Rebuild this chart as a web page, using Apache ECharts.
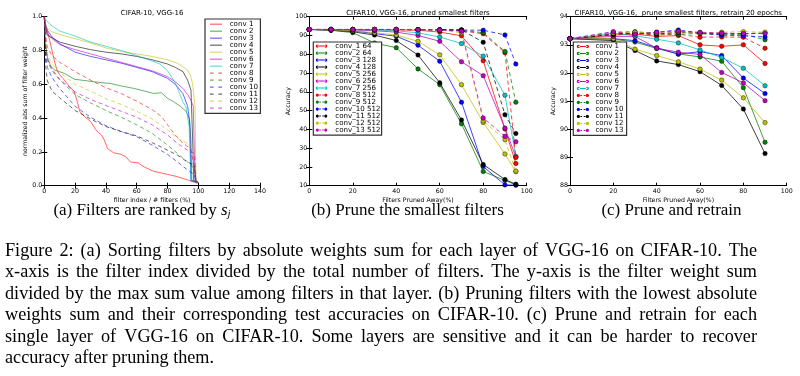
<!DOCTYPE html>
<html>
<head>
<meta charset="utf-8">
<title>VGG-16 filter pruning on CIFAR-10</title>
<script src="https://cdn.jsdelivr.net/npm/echarts@6.0.0/dist/echarts.min.js"></script>
<style>
  html, body { margin: 0; padding: 0; background: #fff; }
  #chart { width: 800px; height: 376px; }
</style>
</head>
<body>
<div id="chart"></div>
<script>
// ---- (a) sorted filter weight sums: [filter index / # filters (%), normalized sum]
const sortConv1 = [[0,1],[1,0.94],[2.5,0.9],[3.5,0.86],[5,0.8],[6.5,0.74],[8,0.69],[9.7,0.66],[13,0.625],[16,0.59],[19.5,0.556],[21.6,0.49],[23,0.44],[26,0.41],[30,0.38],[33.5,0.33],[37,0.3],[39,0.27],[41,0.22],[45,0.195],[50,0.185],[53,0.17],[56,0.14],[61,0.135],[65,0.11],[71,0.085],[76,0.075],[80,0.067],[86.5,0.053],[93,0.034],[96,0.024],[99.5,0.014]];
const sortConv2 = [[0,1],[0.5,0.9],[1,0.82],[2,0.76],[4,0.71],[6.5,0.685],[13,0.665],[19.5,0.63],[28,0.62],[37,0.61],[43,0.605],[50,0.59],[58,0.576],[65,0.56],[71,0.546],[76,0.55],[80,0.517],[84,0.497],[88.7,0.467],[92,0.44],[94,0.4],[95.2,0.27],[95.8,0.03],[100,0.02]];
const sortConv3 = [[0,1],[1,0.95],[2,0.92],[5,0.88],[10,0.84],[20,0.79],[30,0.765],[40,0.745],[50,0.725],[60,0.7],[70,0.675],[80,0.635],[85,0.6],[90,0.545],[93,0.47],[94.5,0.37],[95.2,0.03],[100,0.02]];
const sortConv4 = [[0,1],[1,0.92],[2,0.89],[5,0.875],[10,0.85],[20,0.825],[30,0.805],[40,0.79],[50,0.78],[60,0.765],[70,0.745],[80,0.72],[85,0.7],[90,0.675],[93,0.625],[95.2,0.566],[96.3,0.27],[97,0.03],[100,0.02]];
const sortConv5 = [[0,1],[1,0.95],[2,0.93],[5,0.91],[10,0.895],[20,0.87],[30,0.845],[40,0.815],[50,0.795],[60,0.78],[70,0.765],[80,0.745],[86.5,0.724],[93,0.685],[95,0.65],[96.3,0.6],[97.8,0.47],[98.4,0.03],[100,0.02]];
const sortConv6 = [[0,1],[1,0.93],[2,0.9],[5,0.87],[10,0.835],[20,0.805],[30,0.78],[40,0.755],[50,0.73],[60,0.705],[70,0.68],[80,0.645],[85,0.615],[90,0.575],[93,0.54],[95.2,0.505],[96.7,0.47],[97.8,0.03],[100,0.02]];
const sortConv7 = [[0,1],[1,0.98],[2,0.97],[5,0.945],[10,0.915],[20,0.885],[30,0.85],[40,0.825],[50,0.8],[60,0.77],[70,0.738],[75,0.72],[80,0.68],[85,0.61],[88,0.54],[90,0.495],[92,0.465],[94,0.35],[95.2,0.03],[100,0.02]];
const sortConv8 = [[0,1],[1,0.88],[2,0.82],[5,0.77],[10,0.73],[20,0.675],[30,0.625],[40,0.58],[50,0.545],[60,0.5],[70,0.45],[76,0.41],[80,0.36],[85,0.3],[90,0.25],[95,0.22],[97,0.12],[98.5,0.02]];
const sortConv9 = [[0,1],[1,0.8],[2,0.74],[5,0.68],[10,0.625],[20,0.54],[30,0.49],[40,0.445],[50,0.405],[60,0.36],[70,0.31],[80,0.24],[86.5,0.19],[93,0.14],[97.5,0.1],[98.5,0.02]];
const sortConv10 = [[0,1],[1,0.76],[2,0.7],[5,0.64],[10,0.575],[20,0.47],[30,0.405],[40,0.355],[50,0.32],[60,0.29],[70,0.24],[80,0.185],[86.5,0.14],[93,0.093],[97.5,0.065],[98.5,0.02]];
const sortConv11 = [[0,1],[1,0.7],[2,0.62],[5,0.56],[10,0.52],[20,0.445],[30,0.395],[40,0.35],[50,0.32],[60,0.295],[70,0.255],[80,0.21],[86.5,0.18],[93,0.14],[97.5,0.12],[98.5,0.02]];
const sortConv12 = [[0,1],[1,0.84],[2,0.78],[5,0.72],[10,0.67],[20,0.6],[30,0.56],[40,0.515],[50,0.48],[60,0.44],[70,0.395],[80,0.33],[86.5,0.28],[93,0.25],[97.5,0.23],[98.5,0.02]];
const sortConv13 = [[0,1],[1,0.82],[2,0.75],[5,0.69],[10,0.63],[20,0.555],[30,0.51],[40,0.475],[50,0.44],[60,0.405],[70,0.36],[80,0.3],[86.5,0.25],[93,0.21],[97.5,0.19],[98.5,0.02]];

// ---- (b) accuracy after pruning the smallest filters
const prunedPct = [0, 10, 20, 30, 40, 50, 60, 70, 80, 90, 95];
const accConv1 = [93.2, 93.2, 93.1, 93.0, 93.0, 92.8, 91.8, 89.8, 76.5, 40.2, 21.8];
const accConv2 = [93.2, 92.8, 91.5, 86.0, 83.5, 72.2, 63.8, 43.0, 17.6, 12.8, 10.5];
const accConv3 = [93.2, 93.0, 92.5, 91.0, 89.6, 84.8, 76.3, 54.5, 20.2, 10.4, 10.3];
const accConv4 = [93.2, 92.8, 92.0, 90.2, 87.3, 79.6, 64.8, 45.0, 21.3, 13.3, 10.8];
const accConv5 = [93.2, 93.0, 92.5, 91.5, 90.2, 86.9, 79.7, 63.8, 43.7, 26.9, 17.5];
const accConv6 = [93.2, 93.2, 93.0, 92.5, 91.8, 90.0, 86.9, 76.0, 68.6, 40.7, 25.4];
const accConv7 = [93.2, 93.2, 93.1, 93.0, 92.5, 91.4, 89.2, 85.7, 79.0, 58.2, 25.6];
const accConv8 = [93.2, 93.2, 93.2, 93.2, 93.1, 93.0, 92.8, 92.5, 90.9, 80.8, 25.0];
const accConv9 = [93.2, 93.2, 93.2, 93.2, 93.2, 93.1, 93.0, 92.8, 91.5, 81.5, 54.5];
const accConv10 = [93.2, 93.2, 93.2, 93.2, 93.2, 93.1, 93.0, 92.9, 92.8, 90.3, 74.8];
const accConv11 = [93.2, 93.2, 93.2, 93.2, 93.2, 93.2, 93.1, 93.0, 86.4, 47.8, 37.8];
const accConv12 = [93.2, 93.2, 93.2, 93.2, 93.2, 93.1, 92.9, 91.5, 44.5, 34.5, 17.8];
const accConv13 = [93.2, 93.2, 93.2, 93.2, 93.2, 93.1, 92.9, 92.3, 46.0, 36.3, 33.4];

// ---- (c) accuracy after pruning + retraining 20 epochs
const retrainPct = [0, 20, 30, 40, 50, 60, 70, 80, 90];
const retConv1 = [93.22, 93.35, 93.38, 93.3, 93.33, 93.0, 92.95, 93.0, 92.34];
const retConv2 = [93.22, 93.2, 93.1, 92.87, 92.68, 92.57, 92.42, 91.48, 89.54];
const retConv3 = [93.22, 93.22, 93.15, 92.9, 92.67, 92.76, 92.62, 91.82, 91.27];
const retConv4 = [93.22, 93.15, 92.8, 92.43, 92.3, 92.05, 91.56, 90.72, 89.14];
const retConv5 = [93.22, 93.22, 92.85, 92.62, 92.4, 92.14, 91.75, 91.12, 90.24];
const retConv6 = [93.22, 93.3, 93.3, 92.88, 92.74, 92.66, 92.02, 91.65, 91.02];
const retConv7 = [93.22, 93.42, 93.32, 93.2, 93.07, 92.82, 92.55, 92.17, 91.55];
const retConv8 = [93.22, 93.4, 93.4, 93.35, 93.38, 93.27, 93.28, 93.27, 92.88];
const retConv9 = [93.22, 93.45, 93.47, 93.4, 93.38, 93.4, 93.35, 93.38, 93.18];
const retConv10 = [93.22, 93.4, 93.4, 93.45, 93.53, 93.42, 93.35, 93.32, 93.28];
const retConv11 = [93.22, 93.37, 93.42, 93.38, 93.45, 93.42, 93.4, 93.4, 93.42];
const retConv12 = [93.22, 93.42, 93.45, 93.42, 93.47, 93.42, 93.45, 93.47, 93.45];
const retConv13 = [93.22, 93.47, 93.38, 93.45, 93.48, 93.45, 93.42, 93.4, 93.4];

const layerNames = ['conv 1', 'conv 2', 'conv 3', 'conv 4', 'conv 5', 'conv 6', 'conv 7',
  'conv 8', 'conv 9', 'conv 10', 'conv 11', 'conv 12', 'conv 13'];
const prunedNames = ['conv_1 64', 'conv_2 64', 'conv_3 128', 'conv_4 128', 'conv_5 256', 'conv_6 256',
  'conv_7 256', 'conv_8 512', 'conv_9 512', 'conv_10 512', 'conv_11 512', 'conv_12 512', 'conv_13 512'];

const sortCurves = [sortConv1, sortConv2, sortConv3, sortConv4, sortConv5, sortConv6, sortConv7,
  sortConv8, sortConv9, sortConv10, sortConv11, sortConv12, sortConv13];
const accCurves = [accConv1, accConv2, accConv3, accConv4, accConv5, accConv6, accConv7,
  accConv8, accConv9, accConv10, accConv11, accConv12, accConv13];
const retCurves = [retConv1, retConv2, retConv3, retConv4, retConv5, retConv6, retConv7,
  retConv8, retConv9, retConv10, retConv11, retConv12, retConv13];

const captionLines = [
  'Figure 2: (a) Sorting filters by absolute weights sum for each layer of VGG-16 on CIFAR-10. The',
  'x-axis is the filter index divided by the total number of filters. The y-axis is the filter weight sum',
  'divided by the max sum value among filters in that layer. (b) Pruning filters with the lowest absolute',
  'weights sum and their corresponding test accuracies on CIFAR-10. (c) Prune and retrain for each',
  'single layer of VGG-16 on CIFAR-10. Some layers are sensitive and it can be harder to recover',
  'accuracy after pruning them.'
];

// matplotlib classic colour cycle
const rgb = [[255,0,0],[0,128,0],[0,0,255],[0,0,0],[191,191,0],[191,0,191],[0,191,191]];
const col = (i, a) => { const c = rgb[i % 7]; return 'rgba(' + c[0] + ',' + c[1] + ',' + c[2] + ',' + a + ')'; };

const FONT = 'DejaVu Sans';
const grids = [
  { left: 44.3, top: 16.7, width: 215.7, height: 169 },
  { left: 309.3, top: 16.7, width: 217.4, height: 169 },
  { left: 570, top: 16.7, width: 216.7, height: 169 }
];

const iconLine = 'path://M0,0H20V2H0Z';
const iconDash = 'path://M0,0H6V2H0Z M14,0H20V2H14Z';
const iconMarkLine = 'path://M0,4a4,4 0 1,0 8,0a4,4 0 1,0 -8,0Z M22,4a4,4 0 1,0 8,0a4,4 0 1,0 -8,0Z M4,2.75H26V5.25H4Z';
const iconMarkDash = 'path://M0,4a4,4 0 1,0 8,0a4,4 0 1,0 -8,0Z M22,4a4,4 0 1,0 8,0a4,4 0 1,0 -8,0Z M9,2.75H13V5.25H9Z M17,2.75H21V5.25H17Z';

function xAxes(gi, max, interval, name) {
  const base = {
    gridIndex: gi, type: 'value', min: 0, max: max, interval: interval,
    splitLine: { show: false },
    axisLine: { lineStyle: { color: '#000', width: 1 } },
    axisTick: { inside: true, length: 3, lineStyle: { color: '#000' } }
  };
  return [
    Object.assign({}, base, {
      position: 'bottom', name: name, nameLocation: 'middle', nameGap: 12,
      nameTextStyle: { fontSize: 6.2, fontFamily: FONT, color: '#000' },
      axisLabel: { fontSize: 6.3, fontFamily: FONT, color: '#000', margin: 2.5, showMinLabel: true, showMaxLabel: true }
    }),
    Object.assign({}, base, { position: 'top', axisLabel: { show: false } })
  ];
}

function yAxes(gi, min, max, interval, name, gap, fmt) {
  const base = {
    gridIndex: gi, type: 'value', min: min, max: max, interval: interval,
    splitLine: { show: false },
    axisLine: { show: true, lineStyle: { color: '#000', width: 1 } },
    axisTick: { show: true, inside: true, length: 3, lineStyle: { color: '#000' } }
  };
  return [
    Object.assign({}, base, {
      position: 'left', name: name, nameLocation: 'middle', nameGap: gap,
      nameTextStyle: { fontSize: 6.2, fontFamily: FONT, color: '#000' },
      axisLabel: { fontSize: 6.3, fontFamily: FONT, color: '#000', margin: 2, formatter: fmt, showMinLabel: true, showMaxLabel: true }
    }),
    Object.assign({}, base, { position: 'right', axisLabel: { show: false } })
  ];
}

const series = [];
sortCurves.forEach((d, i) => {
  series.push({
    type: 'line', name: 'a:' + layerNames[i], xAxisIndex: 0, yAxisIndex: 0,
    data: d, symbol: 'none',
    lineStyle: { color: col(i, 0.6), width: 1, type: i >= 7 ? [4, 3] : 'solid' },
    itemStyle: { color: col(i, 0.6) }
  });
});
accCurves.forEach((d, i) => {
  series.push({
    type: 'line', name: 'b:' + prunedNames[i], xAxisIndex: 2, yAxisIndex: 2,
    data: prunedPct.map((x, k) => [x, d[k]]), symbol: 'circle', symbolSize: 4.5,
    lineStyle: { color: col(i, 0.75), width: 1, type: i >= 7 ? [4, 3] : 'solid' },
    itemStyle: { color: col(i, 1), borderColor: '#000', borderWidth: 0.4 }
  });
});
retCurves.forEach((d, i) => {
  series.push({
    type: 'line', name: 'c:' + layerNames[i], xAxisIndex: 4, yAxisIndex: 4,
    data: retrainPct.map((x, k) => [x, d[k]]), symbol: 'circle', symbolSize: 4.5,
    lineStyle: { color: col(i, 0.75), width: 1, type: i >= 7 ? [4, 3] : 'solid' },
    itemStyle: { color: col(i, 1), borderColor: '#000', borderWidth: 0.4 }
  });
});

function legendBox(prefix, names, icons, left, top, pitch, itemWidth, pad, textPad) {
  return {
    orient: 'vertical', left: left, top: top, selectedMode: false,
    data: names.map((n, i) => ({ name: prefix + n, icon: i < 7 ? icons[0] : icons[1] })),
    formatter: (n) => n.slice(2),
    itemWidth: itemWidth, itemHeight: pitch, itemGap: 0, symbolKeepAspect: true,
    padding: pad, borderColor: '#333', borderWidth: 1.2, backgroundColor: '#fff',
    itemStyle: { borderWidth: 0 },
    textStyle: { fontSize: 7.1, fontFamily: FONT, color: '#000', padding: [0, 0, 0, textPad] }
  };
}

// caption: justified lines get wider word gaps, like the typeset original
const capSize = 18.2;
const capFont = capSize + 'px "Liberation Serif"';
const measure = document.createElement('canvas').getContext('2d');
measure.font = capFont;
const capLeft = 5, capRight = 757, capTop = 251, capStep = 21.5;
const captionText = captionLines.map((t, i) => {
  const words = t.split(' ');
  const wordsW = words.reduce((s, w) => s + measure.measureText(w).width, 0);
  const last = i === captionLines.length - 1;
  const gap = last ? measure.measureText(' ').width : (capRight - capLeft - wordsW) / (words.length - 1);
  return {
    type: 'text', x: capLeft, y: capTop + i * capStep,
    style: {
      text: words.join('{g| }'), font: capFont, fill: '#000', verticalAlign: 'middle',
      rich: { g: { width: gap, fontFamily: 'Liberation Serif', fontSize: capSize } }
    }
  };
});
const subSize = 17;
const subFont = subSize + 'px "Liberation Serif"';
const subCaptions = [
  { x: 142, text: '(a) Filters are ranked by {s|s}{j|j}' },
  { x: 407.5, text: '(b) Prune the smallest filters' },
  { x: 671.5, text: '(c) Prune and retrain' }
].map((s) => ({
  type: 'text', x: s.x, y: 211,
  style: {
    text: s.text, font: subFont, fill: '#000', align: 'center', verticalAlign: 'middle',
    rich: {
      s: { fontFamily: 'Liberation Serif', fontSize: subSize, fontStyle: 'italic', fill: '#000' },
      j: { fontFamily: 'Liberation Serif', fontSize: 11, fontStyle: 'italic', fill: '#000', padding: [7, 0, 0, 0] }
    }
  }
}));

const chart = echarts.init(document.getElementById('chart'), null, { renderer: 'canvas' });
chart.setOption({
  animation: false,
  backgroundColor: '#fff',
  textStyle: { fontFamily: FONT },
  title: [
    { text: 'CIFAR-10, VGG-16', left: 152.2, top: 9.3, textAlign: 'center', padding: 0,
      textStyle: { fontSize: 7, fontWeight: 'normal', fontFamily: FONT, color: '#000' } },
    { text: 'CIFAR10, VGG-16, pruned smallest filters', left: 418, top: 9.3, textAlign: 'center', padding: 0,
      textStyle: { fontSize: 7, fontWeight: 'normal', fontFamily: FONT, color: '#000' } },
    { text: 'CIFAR10, VGG-16,  prune smallest filters, retrain 20 epochs', left: 678.3, top: 9.3, textAlign: 'center', padding: 0,
      textStyle: { fontSize: 7, fontWeight: 'normal', fontFamily: FONT, color: '#000' } }
  ],
  grid: grids,
  xAxis: [].concat(
    xAxes(0, 140, 20, 'filter index / # filters (%)'),
    xAxes(1, 100, 20, 'Filters Pruned Away(%)'),
    xAxes(2, 100, 20, 'Filters Pruned Away(%)')
  ),
  yAxis: [].concat(
    yAxes(0, 0, 1, 0.2, 'normalized abs sum of filter weight', 16, (v) => v.toFixed(1)),
    yAxes(1, 10, 100, 10, 'Accuracy', 17, (v) => String(v)),
    yAxes(2, 88, 94, 1, 'Accuracy', 14, (v) => String(v))
  ),
  legend: [
    legendBox('a:', layerNames, [iconLine, iconDash], 205, 19, 10.6, 12, [1.7, 2.5, 1.7, 5], 2.7),
    legendBox('b:', prunedNames, [iconMarkLine, iconMarkDash], 313.3, 42, 10.67, 11.5, [0.6, 1, 1.6, 2.5], 3),
    legendBox('c:', layerNames, [iconMarkLine, iconMarkDash], 573.3, 42, 10.56, 12.3, [0.9, 3, 1.5, 3.4], 1.4)
  ],
  graphic: [].concat(subCaptions, captionText),
  series: series
});
</script>
</body>
</html>
